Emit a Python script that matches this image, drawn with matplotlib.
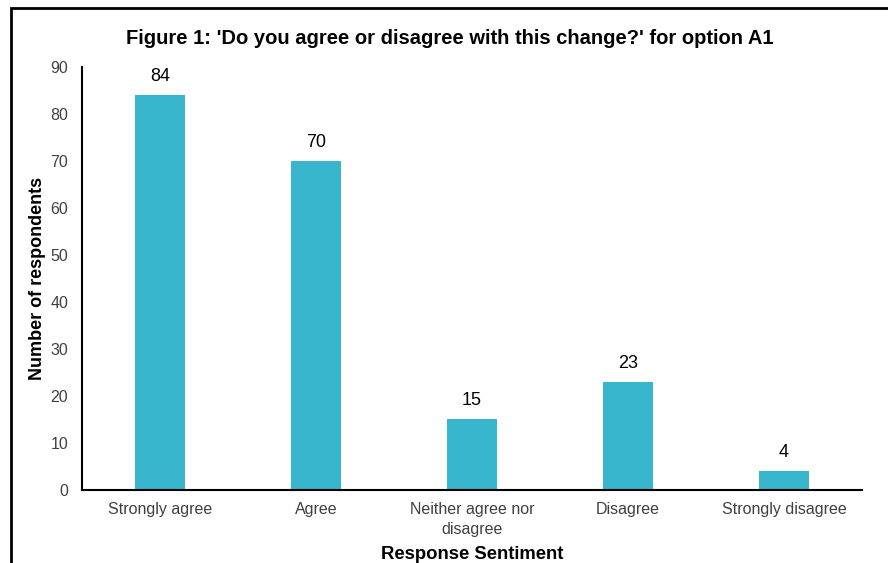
import matplotlib.pyplot as plt
from matplotlib.patches import Rectangle

plt.rcParams['font.family'] = ['Liberation Sans', 'DejaVu Sans']

categories = ['Strongly agree', 'Agree', 'Neither agree nor\ndisagree', 'Disagree', 'Strongly disagree']
counts = [84, 70, 15, 23, 4]
yticks = [0, 10, 20, 30, 40, 50, 60, 70, 80, 90]

bar_color = '#38B6CE'

fig = plt.figure(figsize=(8.88, 5.63), dpi=100)
ax = fig.add_axes([0.0923, 0.1297, 0.8784, 0.7513])

x = range(len(categories))
bars = ax.bar(x, counts, width=0.32, color=bar_color)

for b, v in zip(bars, counts):
    ax.text(b.get_x() + b.get_width() / 2, v + 2.2, str(v),
            ha='center', va='bottom', fontsize=13, color='black')

ax.set_xlim(-0.5, len(categories) - 0.5)
ax.set_ylim(0, 90)
ax.set_yticks(yticks)
ax.set_xticks(list(x))
ax.set_xticklabels(categories, fontsize=11.5, color='#404040', linespacing=1.4)
ax.tick_params(axis='y', labelsize=11.5, labelcolor='#404040', length=0, pad=10)
ax.tick_params(axis='x', length=0, pad=9)

for side in ['top', 'right']:
    ax.spines[side].set_visible(False)
ax.spines['left'].set_linewidth(1.5)
ax.spines['bottom'].set_linewidth(1.5)

ax.set_ylabel('Number of respondents', fontsize=13, fontweight='bold', labelpad=3)
ax.set_xlabel('Response Sentiment', fontsize=13.3, fontweight='bold', labelpad=6)

fig.text(0.507, 0.932, "Figure 1: 'Do you agree or disagree with this change?' for option A1",
         ha='center', va='center', fontsize=14.5, fontweight='bold', color='black')

# outer chart frame, running off the right and bottom edges
fig.patches.append(Rectangle((0.0124, -0.05), 1.1, 1.035, transform=fig.transFigure,
                             fill=False, edgecolor='black', linewidth=2, clip_on=False))

fig.savefig('out.png', dpi=100)
